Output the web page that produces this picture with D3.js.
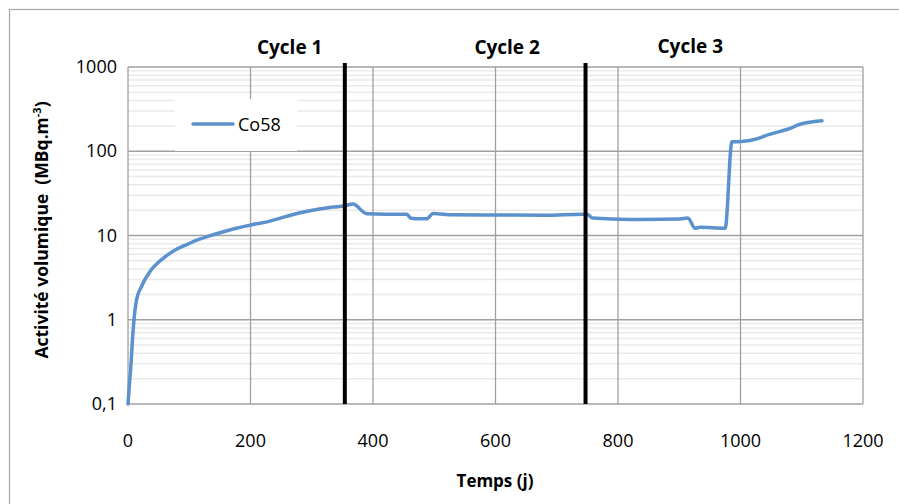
<!DOCTYPE html>
<html>
<head>
<meta charset="utf-8">
<script src="https://cdn.jsdelivr.net/npm/d3@7"></script>
<style>
  body { margin: 0; background: #fff; }
  svg text { font-family: "Open Sans", "Liberation Sans", sans-serif; fill: #000; }
</style>
</head>
<body>
<div id="chart"></div>
<script>
// time (days) and Co58 volumic activity (MBq.m-3)
var days = [0, 2, 4.4, 7.6, 9.8, 14, 22, 36, 58, 75, 96, 118, 139, 160, 177, 194, 210, 227, 250, 281, 310, 335, 353, 367,
    390, 420, 455, 462, 470, 488, 498, 530, 602, 680, 743, 750, 758, 820, 901, 914, 926, 934, 975,
    986, 996, 1035, 1040, 1086, 1094, 1133];
var co58 = [0.1, 0.16, 0.26, 0.63, 1.0, 1.73, 2.48, 3.74, 5.4, 6.6, 7.8, 9.1, 10.2, 11.3, 12.2, 13.0, 13.8, 14.5, 16.2, 18.6, 20.5, 21.8, 22.4, 23.7,
    18.1, 17.9, 17.9, 16.0, 15.8, 15.8, 18.2, 17.6, 17.5, 17.4, 17.9, 17.9, 16.1, 15.5, 15.7, 16.1, 12.2, 12.5, 12.2,
    130, 130, 147, 152, 193, 206, 230];

var xTicks = [0, 200, 400, 600, 800, 1000, 1200];
var yTicks = [0.1, 1, 10, 100, 1000];
var yTickLabels = ["0,1", "1", "10", "100", "1000"];

// cycle boundaries (days) and labels
var cycleBounds = [354, 747];
var cycleNames = ["Cycle 1", "Cycle 2", "Cycle 3"];
var cycleLabelDays = [264, 619, 918];

var width = 899, height = 504;
var margin = { top: 67, right: 36, bottom: 100, left: 128 };
var plotW = width - margin.left - margin.right;   // 735
var plotH = height - margin.top - margin.bottom;  // 337

var svg = d3.select("#chart").append("svg")
    .attr("width", width)
    .attr("height", height);

// outer frame
svg.append("rect")
    .attr("x", 9.5).attr("y", 9.5)
    .attr("width", 900).attr("height", 500)
    .attr("fill", "none")
    .attr("stroke", "#a6a6a6")
    .attr("stroke-width", 1.2);

var g = svg.append("g")
    .attr("transform", "translate(" + margin.left + "," + margin.top + ")");

var x = d3.scaleLinear().domain([0, 1200]).range([0, plotW]);
var y = d3.scaleLog().domain([0.1, 1000]).range([plotH, 0]);

// minor grid lines
var minor = [];
for (var dec = 0.1; dec < 1000; dec *= 10) {
    for (var k = 2; k <= 9; k++) minor.push(dec * k);
}
g.selectAll(".minor")
    .data(minor)
    .enter().append("line")
    .attr("class", "minor")
    .attr("x1", 0).attr("x2", plotW)
    .attr("y1", function (d) { return y(d); })
    .attr("y2", function (d) { return y(d); })
    .attr("stroke", "#eaeaea")
    .attr("stroke-width", 1.5);

// major grid lines
g.selectAll(".hgrid")
    .data(yTicks)
    .enter().append("line")
    .attr("x1", 0).attr("x2", plotW)
    .attr("y1", function (d) { return y(d); })
    .attr("y2", function (d) { return y(d); })
    .attr("stroke", "#a0a0a0")
    .attr("stroke-width", 1.3);

g.selectAll(".vgrid")
    .data(xTicks)
    .enter().append("line")
    .attr("x1", function (d) { return x(d); })
    .attr("x2", function (d) { return x(d); })
    .attr("y1", 0).attr("y2", plotH)
    .attr("stroke", "#a0a0a0")
    .attr("stroke-width", 1.3);

// tick labels
g.selectAll(".ylab")
    .data(yTicks)
    .enter().append("text")
    .attr("x", -11)
    .attr("y", function (d) { return y(d) + 6; })
    .attr("text-anchor", "end")
    .style("font-size", "18px")
    .text(function (d, i) { return yTickLabels[i]; });

g.selectAll(".xlab")
    .data(xTicks)
    .enter().append("text")
    .attr("x", function (d) { return x(d); })
    .attr("y", plotH + 43)
    .attr("text-anchor", "middle")
    .style("font-size", "18px")
    .text(function (d) { return d; });

// series
var pts = days.map(function (d, i) { return [d, co58[i]]; });
var line = d3.line()
    .curve(d3.curveMonotoneX)
    .x(function (d) { return x(d[0]); })
    .y(function (d) { return y(d[1]); });

g.append("path")
    .datum(pts)
    .attr("d", line)
    .attr("fill", "none")
    .attr("stroke", "#5b91cc")
    .attr("stroke-width", 3.5)
    .attr("stroke-linejoin", "round")
    .attr("stroke-linecap", "round");

// cycle separators
g.selectAll(".cycle")
    .data(cycleBounds)
    .enter().append("line")
    .attr("x1", function (d) { return x(d); })
    .attr("x2", function (d) { return x(d); })
    .attr("y1", -4).attr("y2", plotH)
    .attr("stroke", "#000")
    .attr("stroke-width", 4);

g.selectAll(".cyclab")
    .data(cycleNames)
    .enter().append("text")
    .attr("x", function (d, i) { return x(cycleLabelDays[i]); })
    .attr("y", function (d, i) { return i == 2 ? -14 : -13; })
    .attr("text-anchor", "middle")
    .style("font-size", "19px")
    .style("font-weight", "bold")
    .text(function (d) { return d; });

// legend
var leg = g.append("g").attr("transform", "translate(47,32)");
leg.append("rect")
    .attr("width", 122).attr("height", 52)
    .attr("fill", "#fff");
leg.append("line")
    .attr("x1", 18).attr("x2", 58)
    .attr("y1", 25).attr("y2", 25)
    .attr("stroke", "#5b91cc")
    .attr("stroke-width", 3.5)
    .attr("stroke-linecap", "round");
leg.append("text")
    .attr("x", 63).attr("y", 32)
    .style("font-size", "18px")
    .text("Co58");

// axis titles
svg.append("text")
    .attr("x", 495).attr("y", 487)
    .attr("text-anchor", "middle")
    .style("font-size", "17px")
    .style("font-weight", "bold")
    .text("Temps (j)");

svg.append("text")
    .attr("transform", "translate(48,230) rotate(-90)")
    .attr("text-anchor", "middle")
    .style("font-size", "17.5px")
    .style("font-weight", "bold")
    .html("Activité volumique&#160;&#160;(MBq.m<tspan dy='-7' font-size='11px'>-3</tspan><tspan dy='7'>)</tspan>");
</script>
</body>
</html>
